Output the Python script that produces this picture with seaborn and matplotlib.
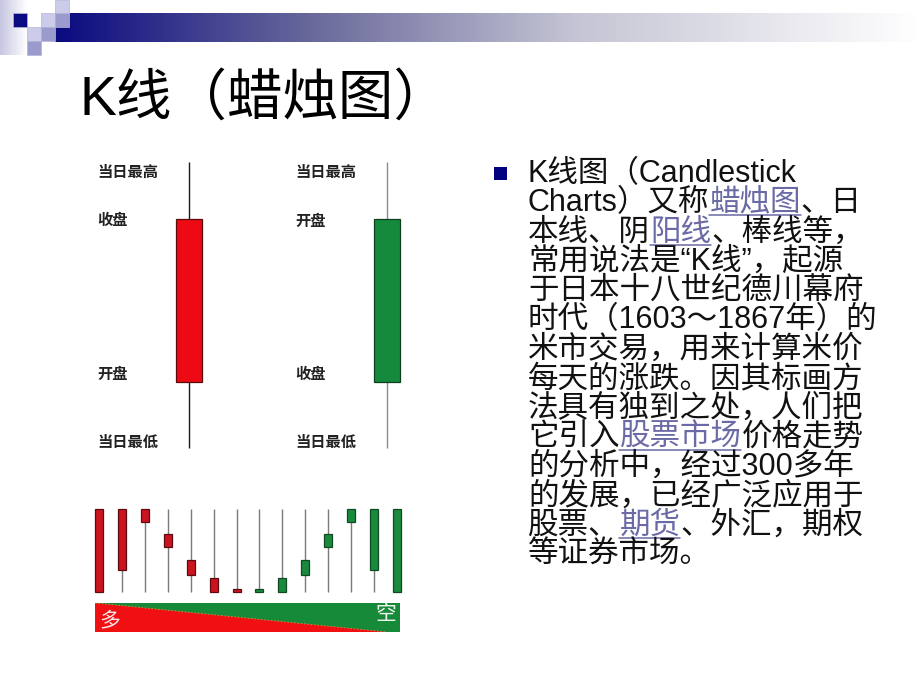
import re
import matplotlib
matplotlib.use("Agg")
import matplotlib.pyplot as plt
import seaborn as sns
import numpy as np
from matplotlib.colors import LinearSegmentedColormap
from matplotlib.patches import Rectangle, Polygon

sns.set_theme(context='notebook', style="white")
plt.rcParams['font.family'] = ['Liberation Sans', 'Noto Sans CJK SC', 'DejaVu Sans']

# --- data ---
# two big example candles: rising (red) and falling (green)
bigOpen = [23, 80]
bigClose = [80, 23]
bigHigh = [100, 100]
bigLow = [0, 0]
bigColors = ['#ee0a14', '#168a3c']
bigEdges = ['#5a0a0a', '#0d3f1e']
bigWicks = ['#1a1a1a', '#8c8c8c']
redLabels = ['当日最高', '收盘', '开盘', '当日最低']
greenLabels = ['当日最高', '开盘', '收盘', '当日最低']

# small row of candles, from strongly bullish to strongly bearish
smallOpen = [0, 26, 84, 54, 21, 0, 0, 4, 17, 38, 70, 100, 100, 100]
smallClose = [100, 100, 100, 70, 38, 17, 4, 0, 0, 21, 54, 84, 26, 0]
smallHigh = [100, 100, 100, 100, 100, 100, 100, 100, 100, 100, 100, 100, 100, 100]
smallLow = [0, 0, 0, 0, 0, 0, 0, 0, 0, 0, 0, 0, 0, 0]
barEnds = ['多', '空']

titleText = 'K线（蜡烛图）'
# [..] marks a hyperlink
bodyLines = [
    'K线图（Candlestick',
    'Charts）又称[蜡烛图]、日',
    '本线、阴[阳线]、棒线等，',
    '常用说法是“K线”，起源',
    '于日本十八世纪德川幕府',
    '时代（1603～1867年）的',
    '米市交易，用来计算米价',
    '每天的涨跌。因其标画方',
    '法具有独到之处，人们把',
    '它引入[股票市场]价格走势',
    '的分析中，经过300多年',
    '的发展，已经广泛应用于',
    '股票、[期货]、外汇，期权',
    '等证券市场。',
]

W, H = 920, 690
linkColor = '#6a6aa6'


def pxAxes(fig, x0, y0, x1, y1):
    ax = fig.add_axes([x0 / W, 1 - y1 / H, (x1 - x0) / W, (y1 - y0) / H])
    ax.set_axis_off()
    return ax


def drawCandles(ax, opens, closes, highs, lows, colors, edges, wicks, width, wickLw):
    x = np.arange(len(opens))
    lo = np.minimum(opens, closes)
    hi = np.maximum(opens, closes)
    ax.vlines(x, lows, highs, colors=wicks, lw=wickLw, zorder=1)
    ax.bar(x, hi - lo, bottom=lo, width=width, color=colors, edgecolor=edges, linewidth=0.9, zorder=2)
    return x


fig = plt.figure(figsize=(9.2, 6.9), dpi=100)
fig.patch.set_facecolor('white')

# slide decoration and text layer, in pixel coordinates
deco = fig.add_axes([0, 0, 1, 1])
deco.set_xlim(0, W)
deco.set_ylim(H, 0)
deco.set_axis_off()

barMap = LinearSegmentedColormap.from_list('bar', [(0, '#0a0a80'), (0.3, '#6a6a9c'), (0.6, '#c4c4d4'), (1, '#ffffff')])
deco.imshow(np.linspace(0, 1, 256)[None, :], cmap=barMap, extent=(55, 920, 42, 13), aspect='auto', zorder=1)
sideMap = LinearSegmentedColormap.from_list('side', ['#c6c6e2', '#ffffff'])
deco.imshow(np.linspace(0, 1, 64)[None, :], cmap=sideMap, extent=(0, 27, 55, 0), aspect='auto', zorder=0)
for (sx, sy), fc in [((13, 13), '#0a0a82'), ((41, 13), '#ccccea'), ((55, 0), '#ccccea'),
                     ((27, 27), '#ccccea'), ((55, 13), '#9a9acc'), ((41, 27), '#9a9acc'),
                     ((27, 41), '#9a9acc')]:
    deco.add_patch(Rectangle((sx, sy), 14, 14, facecolor=fc, edgecolor='#b4b4d8', lw=0.5, zorder=2))

deco.text(80, 115, titleText, fontsize=40, color='black', va='baseline', ha='left')

deco.add_patch(Rectangle((494, 167), 13, 13, facecolor='#000080', edgecolor='none'))
renderer = fig.canvas.get_renderer()
y = 182
for line in bodyLines:
    x = 528
    parts = re.split(r'\[([^\]]*)\]', line)
    for i, seg in enumerate(parts):
        if not seg:
            continue
        isLink = i % 2 == 1
        t = deco.text(x, y, seg, fontsize=22, color=linkColor if isLink else '#111111',
                      va='baseline', ha='left')
        w = t.get_window_extent(renderer).width
        if isLink:
            deco.plot([x, x + w], [y + 4, y + 4], color=linkColor, lw=1.1)
        x += w
    y += 29.3

# big candles
axBig = pxAxes(fig, 80, 150, 420, 460)
xb = drawCandles(axBig, bigOpen, bigClose, bigHigh, bigLow, bigColors, bigEdges, bigWicks, 0.131, 1.0)
axBig.set_xlim(-0.5505, 1.1667)
axBig.set_ylim(-4.2, 104.2)
for pos, labels in zip(xb, [redLabels, greenLabels]):
    levels = [bigHigh[pos], max(bigOpen[pos], bigClose[pos]), min(bigOpen[pos], bigClose[pos]), bigLow[pos]]
    for lab, lev, dy in zip(labels, levels, [-8, -1.5, 5, 3.6]):
        axBig.annotate(lab, (pos - 0.465, lev), xytext=(0, dy), textcoords='offset points',
                       fontsize=11, fontweight='bold', color='#222222', ha='left', va='center')

# small candle row
axSmall = pxAxes(fig, 85, 500, 410, 598)
smallColors = ['#cc1420' if c > o else '#1b8a3e' for o, c in zip(smallOpen, smallClose)]
smallEdges = ['#5a0c10' if c > o else '#0f4a22' for o, c in zip(smallOpen, smallClose)]
drawCandles(axSmall, smallOpen, smallClose, smallHigh, smallLow, smallColors, smallEdges, '#7a7a7a', 0.35, 1.0)
axSmall.set_xlim(-0.625, 13.58)
axSmall.set_ylim(-7.2, 110.8)

# bull / bear bar
axBar = pxAxes(fig, 95, 603, 400, 632)
axBar.set_xlim(0, 1)
axBar.set_ylim(0, 1)
axBar.add_patch(Rectangle((0, 0), 1, 1, facecolor='#178a3a', edgecolor='none'))
axBar.add_patch(Polygon([(0, 1), (0, 0), (0.957, 0)], closed=True, facecolor='#f00f12', edgecolor='none'))
axBar.plot([0, 0.957], [1, 0], color='#d09040', lw=0.6, ls=(0, (2, 2)))
axBar.text(0.048, 0.4, barEnds[0], fontsize=15, color='#f6e6e6', ha='center', va='center')
axBar.text(0.953, 0.6, barEnds[1], fontsize=15, color='#eef6ee', ha='center', va='center')

fig.savefig('out.png', dpi=100)
